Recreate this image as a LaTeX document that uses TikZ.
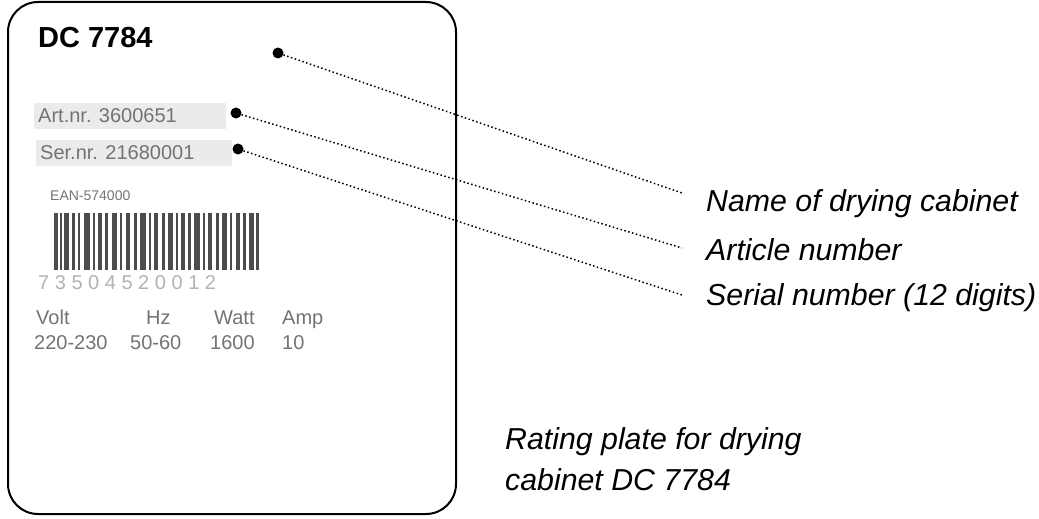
\documentclass[tikz,border=0pt]{standalone}
\usepackage{fontspec}
\setmainfont{Liberation Sans}
\begin{document}
\begin{tikzpicture}[x=1pt,y=-1pt,
  lbl/.style={anchor=west,font=\itshape\fontsize{30.3}{34}\selectfont,inner sep=0pt},
  blur/.style={anchor=west,inner sep=0pt,text=black!55,font=\fontsize{20}{22}\selectfont},
  dot/.style={circle,fill=black,inner sep=0pt,minimum size=11pt},
  lead/.style={dash pattern=on 1.5pt off 2.5pt,line width=1.5pt}]
\useasboundingbox (0,0) rectangle (1039,519);
\draw[line width=2pt,rounded corners=30pt] (8,2) rectangle (456,514);
\node[anchor=west,inner sep=0pt,font=\bfseries\fontsize{29}{31}\selectfont] (dc) at (38,38) {DC 7784};
\fill[black!8] (34,103) rectangle (226,129);
\fill[black!8] (36,140) rectangle (232,166);
\node[blur] (art) at (38,116) {Art.nr. 3600651};
\node[blur] (ser) at (40,153) {Ser.nr. 21680001};
\node[blur,font=\fontsize{14}{16}\selectfont] (ean) at (50,196) {EAN-574000};
\foreach \x/\w in {54/4,60/2,64/5,72/3,78/2,84/6,93/2,98/4,105/3,112/5,120/2,126/4,134/3,140/6,149/2,154/4,162/3,168/5,176/2,181/4,188/3,194/6,203/2,208/4,216/3,222/5,230/2,236/4,243/3,249/5,256/3}
  \fill[black!70] (\x,213) rectangle ++(\w,57);
\node[blur,text=black!30] (num) at (38,283) {7 3 5 0 4 5 2 0 0 1 2};
\node[blur,anchor=base west] (h1) at (36,324) {Volt};
\node[blur,anchor=base west] (h2) at (146,324) {Hz};
\node[blur,anchor=base west] (h3) at (214,324) {Watt};
\node[blur,anchor=base west] (h4) at (282,324) {Amp};
\node[blur,anchor=base west] (v1) at (34,349) {220-230};
\node[blur,anchor=base west] (v2) at (130,349) {50-60};
\node[blur,anchor=base west] (v3) at (210,349) {1600};
\node[blur,anchor=base west] (v4) at (282,349) {10};
\node[dot] (d1) at (278,53) {};
\node[dot] (d2) at (236,113) {};
\node[dot] (d3) at (238,149) {};
\coordinate (e1) at (682,193);
\coordinate (e2) at (682,248);
\coordinate (e3) at (682,295);
\draw[lead] (d1) -- (e1);
\draw[lead] (d2) -- (e2);
\draw[lead] (d3) -- (e3);
\node[lbl] (l1) at (706,204) {Name of drying cabinet};
\node[lbl] (l2) at (706,250) {Article number};
\node[lbl] (l3) at (706,298) {Serial number (12 digits)};
\node[lbl] (r1) at (505,442) {Rating plate for drying};
\node[lbl] (r2) at (505,480) {cabinet DC 7784};
\end{tikzpicture}
\end{document}
